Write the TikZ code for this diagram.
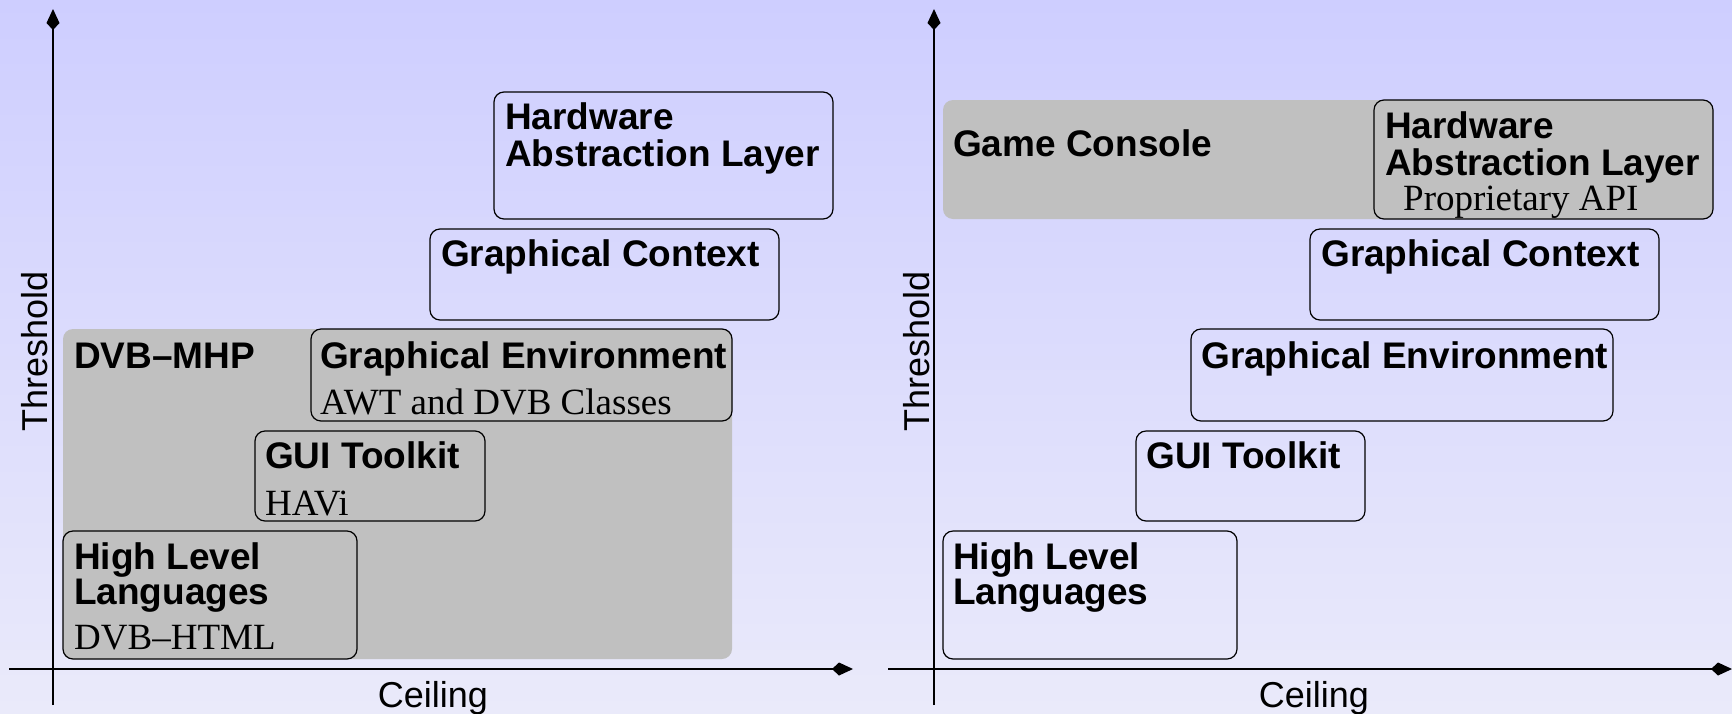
\documentclass[tikz,border=0pt]{standalone}
\usepackage{fontspec}
\setmainfont{Liberation Serif}
\setsansfont{Liberation Sans}
\usetikzlibrary{arrows.meta}
\definecolor{bgtop}{RGB}{206,206,255}
\definecolor{bgbot}{RGB}{234,234,250}
\definecolor{areagray}{RGB}{192,192,192}
\tikzset{
  axisline/.style={line width=1.5pt, -{Kite[length=21pt,width=13pt,inset=7pt]}},
  boxframe/.style={draw=black, line width=1.2pt, rounded corners=10pt},
  grayarea/.style={fill=areagray, rounded corners=10pt},
  title/.style={anchor=base west, inner sep=0pt, font=\sffamily\bfseries\fontsize{37}{40}\selectfont},
  subtitle/.style={anchor=base west, inner sep=0pt, font=\rmfamily\fontsize{37}{40}\selectfont},
  axlabel/.style={anchor=base, inner sep=0pt, font=\sffamily\fontsize{36}{40}\selectfont},
}
\begin{document}
\begin{tikzpicture}[x=1pt, y=-1pt]
\useasboundingbox (0,0) rectangle (1732,713);
\shade[top color=bgtop, bottom color=bgbot] (0,0) rectangle (1732,713);

% ---------- left panel ----------
\fill[grayarea] (63,329) rectangle (732,659);
\draw[boxframe] (494,92) rectangle (833,219);
\draw[boxframe] (430,229) rectangle (779,320);
\draw[boxframe, fill=areagray] (311,329) rectangle (732,421);
\draw[boxframe, fill=areagray] (255,431) rectangle (485,521);
\draw[boxframe, fill=areagray] (63,531) rectangle (357,659);

\node[title] (lhal1) at (505,129) {Hardware};
\node[title] (lhal2) at (505,166) {Abstraction Layer};
\node[title] (lgc) at (441,266) {Graphical Context};
\node[title] (ldvb) at (74,368) {DVB--MHP};
\node[title] (lge) at (320,368) {Graphical Environment};
\node[subtitle] (lgesub) at (320,414) {AWT and DVB Classes};
\node[title] (lgui) at (265,468) {GUI Toolkit};
\node[subtitle] (lguisub) at (265,515) {HAVi};
\node[title] (lhll1) at (74,569) {High Level};
\node[title] (lhll2) at (74,604) {Languages};
\node[subtitle] (lhllsub) at (74,649) {DVB--HTML};

\coordinate (lxa0) at (9,669);
\coordinate (lxa1) at (853,669);
\coordinate (lya0) at (53,705);
\coordinate (lya1) at (53,9);
\draw[axisline] (lxa0) -- (lxa1);
\draw[axisline] (lya0) -- (lya1);
\node[axlabel] (lceil) at (433,707) {Ceiling};
\node[axlabel, rotate=90] (lthr) at (47,351) {Threshold};

% ---------- right panel ----------
\fill[grayarea] (943,100) rectangle (1713,219);
\draw[boxframe, fill=areagray] (1374,100) rectangle (1713,219);
\draw[boxframe] (1310,229) rectangle (1659,320);
\draw[boxframe] (1191,329) rectangle (1613,421);
\draw[boxframe] (1136,431) rectangle (1365,521);
\draw[boxframe] (943,531) rectangle (1237,659);

\node[title] (rgame) at (953,156) {Game Console};
\node[title] (rhal1) at (1385,138) {Hardware};
\node[title] (rhal2) at (1385,175) {Abstraction Layer};
\node[subtitle] (rhalsub) at (1403,210) {Proprietary API};
\node[title] (rgc) at (1321,266) {Graphical Context};
\node[title] (rge) at (1201,368) {Graphical Environment};
\node[title] (rgui) at (1146,468) {GUI Toolkit};
\node[title] (rhll1) at (953,569) {High Level};
\node[title] (rhll2) at (953,604) {Languages};

\coordinate (rxa0) at (888,669);
\coordinate (rxa1) at (1732,669);
\coordinate (rya0) at (934,705);
\coordinate (rya1) at (934,9);
\draw[axisline] (rxa0) -- (rxa1);
\draw[axisline] (rya0) -- (rya1);
\node[axlabel] (rceil) at (1314,707) {Ceiling};
\node[axlabel, rotate=90] (rthr) at (929,351) {Threshold};
\end{tikzpicture}
\end{document}
